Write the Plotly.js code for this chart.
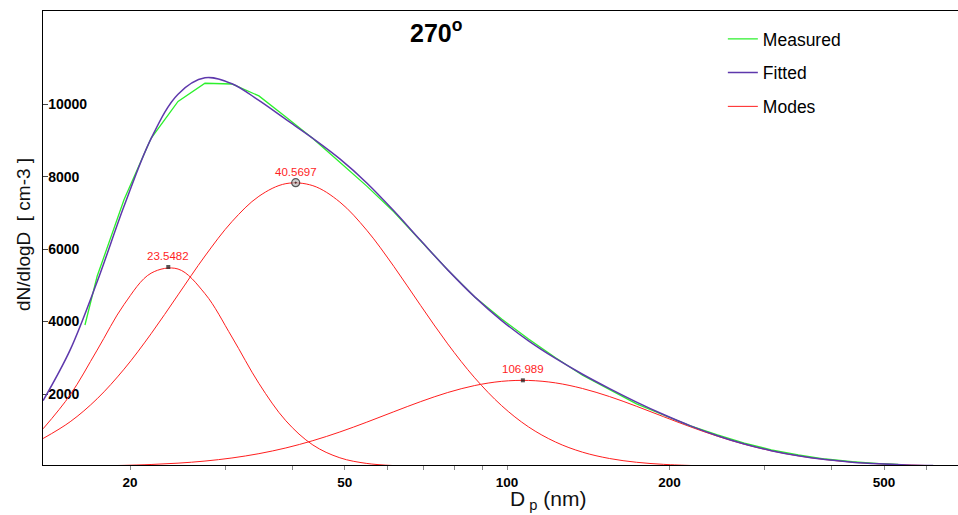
<!DOCTYPE html>
<html>
<head>
<meta charset="utf-8">
<script src="https://cdn.plot.ly/plotly-3.0.1.min.js"></script>
<style>
  html, body { margin: 0; padding: 0; background: #fff; overflow: hidden; }
  #chart { width: 958px; height: 515px; }
</style>
</head>
<body>
<div id="chart"></div>
<script>
// ---- data ----
const fitDiam = [13.80,15.49,17.38,19.50,21.88,24.55,27.54,30.90,34.67,38.90,43.65,48.98,54.95,61.66,69.18,77.62,87.10,97.72,109.6,123.0,138.0,154.9,173.8,195.0,218.8,245.5,275.4,309.0,346.7,389.0,436.5,489.8,549.5,616.6];
const fitted  = [1816,3217,5098,7190,9053,10279,10729,10567,10105,9580,9057,8491,7827,7059,6237,5427,4681,4028,3467,2981,2546,2148,1776,1433,1120,847,618,434,293,191,119,72,41,23];

const measDiam = [16.5,17.38,19.50,21.88,24.55,27.54,30.90,34.67,38.90,43.65,48.98,54.95,61.66,69.18,77.62,87.10,97.72,109.6,123.0,138.0,154.9,173.8,195.0,218.8,245.5,275.4,309.0,346.7,389.0,436.5,489.8,531];
const measured = [3906,5250,7370,9060,10080,10580,10560,10230,9650,9057,8400,7740,7030,6230,5427,4681,4070,3520,3000,2520,2120,1730,1420,1120,870,645,460,320,205,130,80,55];

const mode1Diam = [13.80,15.49,17.38,19.50,21.88,24.55,27.54,30.90,34.67,38.90,43.65,48.98,54.95,61.66];
const mode1     = [1040,1974,3212,4473,5336,5451,4770,3574,2293,1261,593,239,83,24];

const mode2Diam = [13.80,15.49,17.38,19.50,21.88,24.55,27.54,30.90,34.67,38.90,43.65,48.98,54.95,61.66,69.18,77.62,87.10,97.72,109.6,123.0,138.0,154.9,173.8,195.0,218.8,226];
const mode2     = [772,1234,1869,2687,3663,4737,5810,6759,7459,7808,7752,7300,6521,5525,4440,3385,2447,1678,1092,674,394,219,115,58,27,22];

const mode3Diam = [18.6,19.50,21.88,24.55,27.54,30.90,34.67,38.90,43.65,48.98,54.95,61.66,69.18,77.62,87.10,97.72,109.6,123.0,138.0,154.9,173.8,195.0,218.8,245.5,275.4,309.0,346.7,389.0,436.5,489.8,549.5,616.6];
const mode3     = [24,30,54,91,149,234,353,511,712,952,1223,1510,1791,2041,2234,2350,2375,2307,2152,1929,1661,1375,1093,835,613,432,293,191,119,72,41,23];

const peakDiam   = [23.5482, 40.5697, 106.989];
const peakHeight = [5507, 7835, 2378];
const peakLabels = ['23.5482', '40.5697', '106.989'];

const xTickVals  = [20, 50, 100, 200, 500];
const xTickText  = ['20', '50', '100', '200', '500'];
const xMinorVals = [30, 40, 60, 70, 80, 90, 300, 400, 600];
const yTickVals  = [2000, 4000, 6000, 8000, 10000];
const yTickText  = ['2000', '4000', '6000', '8000', '10000'];

const seriesNames = ['Measured', 'Fitted', 'Modes'];

// ---- chart ----
const FONT = 'Arial, "Liberation Sans", sans-serif';
const RED = '#ff1e1e';

const modeTrace = (x, y, show) => ({
  x: x, y: y, type: 'scatter', mode: 'lines',
  line: { color: RED, width: 1, shape: 'spline' },
  name: seriesNames[2], legendgroup: 'modes', showlegend: show, legendrank: 3,
  hoverinfo: 'x+y'
});

const traces = [
  modeTrace(mode1Diam, mode1, true),
  modeTrace(mode2Diam, mode2, false),
  modeTrace(mode3Diam, mode3, false),
  {
    x: measDiam, y: measured, type: 'scatter', mode: 'lines',
    line: { color: '#2cf02c', width: 1.3 },
    name: seriesNames[0], legendgroup: 'meas', legendrank: 1
  },
  {
    x: fitDiam, y: fitted, type: 'scatter', mode: 'lines',
    line: { color: '#5e38ac', width: 1.5, shape: 'spline' },
    name: seriesNames[1], legendgroup: 'fit', legendrank: 2
  },
  {
    x: peakDiam, y: peakHeight, type: 'scatter', mode: 'markers',
    marker: { symbol: ['square', 'circle-dot', 'square'], size: [4, 8, 4],
              color: ['#111', '#bbb', '#111'], line: { color: '#111', width: [0, 1.2, 0] } },
    showlegend: false, hoverinfo: 'x+y'
  }
];

const annotations = peakDiam.map((d, i) => ({
  x: Math.log10(d), y: peakHeight[i], xref: 'x', yref: 'y',
  text: peakLabels[i], showarrow: false, yshift: 11,
  font: { family: FONT, size: 11.5, color: RED }
}));

annotations.push({
  xref: 'paper', yref: 'paper', x: 0.4295, y: 0.956,
  xanchor: 'center', yanchor: 'middle',
  text: '<b>270<sup>o</sup></b>', showarrow: false,
  font: { family: FONT, size: 25, color: '#000' }
});
annotations.push({
  xref: 'paper', yref: 'paper', x: 0.5514, y: -0.045,
  xanchor: 'center', yanchor: 'top',
  text: 'D<sub> p</sub> (nm)', showarrow: false,
  font: { family: FONT, size: 21, color: '#111' }
});
annotations.push({
  xref: 'paper', yref: 'paper', x: -0.0219, y: 0.5088,
  xanchor: 'center', yanchor: 'middle', textangle: -90,
  text: 'dN/dlogD  [ cm-3 ]', showarrow: false,
  font: { family: FONT, size: 19, color: '#111' }
});

const layout = {
  width: 958, height: 515,
  margin: { l: 43, r: 0, t: 11, b: 50, pad: 0 },
  paper_bgcolor: '#fff', plot_bgcolor: '#fff',
  showlegend: true,
  legend: {
    x: 0.743, y: 0.978, xanchor: 'left', yanchor: 'top',
    bgcolor: 'rgba(0,0,0,0)', borderwidth: 0,
    font: { family: FONT, size: 17.5, color: '#000' },
    traceorder: 'grouped', tracegroupgap: 8
  },
  xaxis: {
    type: 'log', range: [1.1397, 2.8360],
    tickmode: 'array', tickvals: xTickVals, ticktext: xTickText,
    ticks: 'outside', ticklen: 4, tickwidth: 1, tickcolor: '#888',
    minor: { tickmode: 'array', tickvals: xMinorVals, ticks: 'outside',
             ticklen: 4, tickwidth: 1, tickcolor: '#888', showgrid: false },
    tickfont: { family: FONT, size: 13.5, color: '#000', weight: 'bold' },
    showgrid: false, zeroline: false,
    showline: true, linecolor: '#000', linewidth: 1.3, mirror: true,
    layer: 'below traces'
  },
  yaxis: {
    range: [40, 12575],
    tickmode: 'array', tickvals: yTickVals, ticktext: yTickText,
    ticks: 'inside', ticklen: 5, tickwidth: 1, tickcolor: '#444',
    ticklabelposition: 'inside',
    tickfont: { family: FONT, size: 14, color: '#000', weight: 'bold' },
    showgrid: false, zeroline: false,
    showline: true, linecolor: '#000', linewidth: 1.3,
    layer: 'below traces'
  },
  annotations: annotations
};

Plotly.newPlot('chart', traces, layout, { displayModeBar: false, staticPlot: true });
</script>
</body>
</html>
